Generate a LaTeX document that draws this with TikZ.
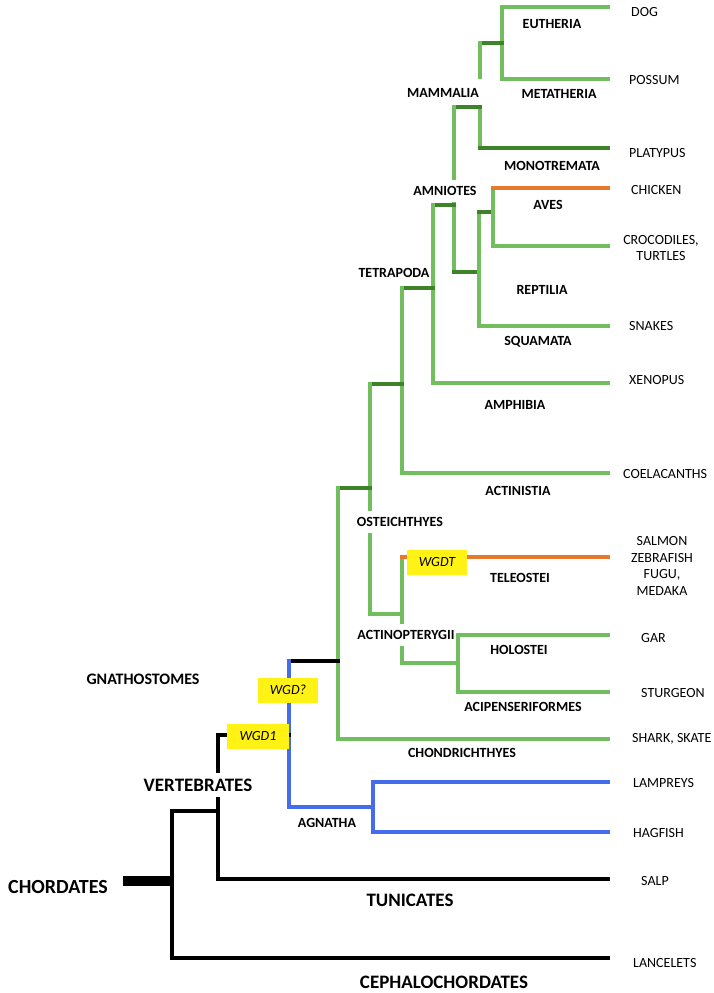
\documentclass[tikz,border=0pt]{standalone}
\usepackage{fontspec}
\setmainfont{Carlito}
\usetikzlibrary{calc}

\definecolor{lgreen}{RGB}{112,190,94}
\definecolor{dgreen}{RGB}{62,130,42}
\definecolor{orng}{RGB}{228,122,42}
\definecolor{blu}{RGB}{70,108,238}
\definecolor{wgdyellow}{RGB}{255,242,20}

\tikzset{
    branch/.style={lgreen, line width=3.4pt, line cap=rect},
    stem/.style={dgreen, line width=3.4pt, line cap=rect},
    orangeline/.style={orng, line width=3.4pt, line cap=rect},
    blueline/.style={blu, line width=3.4pt, line cap=rect},
    blackline/.style={black, line width=3.4pt, line cap=rect},
    rootbar/.style={black, line width=10pt},
    clade/.style={font=\bfseries\fontsize{14}{16}\selectfont, inner sep=0pt},
    midclade/.style={font=\bfseries\fontsize{16}{18}\selectfont, inner sep=0pt},
    bigclade/.style={font=\bfseries\fontsize{19}{22}\selectfont, inner sep=0pt},
    hugeclade/.style={font=\bfseries\fontsize{20}{24}\selectfont, inner sep=0pt},
    gap/.style={fill=white, inner xsep=0pt, inner ysep=6pt},
    leaf/.style={font=\fontsize{14}{16.5}\selectfont, anchor=west, inner sep=0pt},
    leafc/.style={font=\fontsize{14}{16.5}\selectfont, align=center, inner sep=0pt},
    wgd/.style={fill=wgdyellow, font=\itshape\fontsize{14}{16}\selectfont,
        minimum width=60pt, minimum height=25pt, inner sep=0pt},
}

\begin{document}
\begin{tikzpicture}[x=1pt, y=-1pt]
    \fill[white] (0,0) rectangle (714,993);

    % leaf ends
    \foreach \n/\y in {dog/7, possum/79, platypus/148, chicken/188, croc/246,
        snakes/326, xenopus/383, coel/473, teleost/557, gar/635, sturgeon/692,
        shark/739, lamprey/782, hagfish/832, salp/879, lancelet/958}
        \coordinate (\n) at (608,\y);

    % branch points
    \coordinate (eut) at (502,43);
    \coordinate (theria) at (480,43);
    \coordinate (theriaEnd) at (480,77);
    \coordinate (mam) at (480,107);
    \coordinate (amnTop) at (454,107);
    \coordinate (amn) at (454,205);
    \coordinate (amnBot) at (454,272);
    \coordinate (rep) at (479,272);
    \coordinate (repTop) at (479,212);
    \coordinate (aves) at (493,212);
    \coordinate (tet) at (433,205);
    \coordinate (tetStem) at (433,288);
    \coordinate (sarc) at (402,288);
    \coordinate (sarcStem) at (402,384);
    \coordinate (ostTop) at (370,384);
    \coordinate (ostJoin) at (370,488);
    \coordinate (gna) at (338,488);
    \coordinate (act) at (402,614);
    \coordinate (tel) at (402,557);
    \coordinate (hol) at (458,663);
    \coordinate (gnaTop) at (338,661);
    \coordinate (vtop) at (289,661);
    \coordinate (agn) at (373,807);
    \coordinate (vertTop) at (218,735);
    \coordinate (vertJoin) at (218,811);
    \coordinate (chor) at (172,811);
    \coordinate (root) at (172,881);
    \coordinate (rootEnd) at (123,881);

    % Gnathostomata
    \draw[branch] (eut) |- (dog);
    \draw[branch] (eut) |- (possum);
    \draw[stem] (theria) -- (eut);
    \draw[branch] (theria) -- (theriaEnd);
    \draw[branch] (mam) -- (mam |- platypus);
    \draw[stem] (mam |- platypus) -- (platypus);
    \draw[stem] (amnTop) -- (mam);
    \draw[branch] (amnTop) -- (amnBot);
    \draw[stem] (amnBot) -- (rep);
    \draw[branch] (repTop) |- (snakes);
    \draw[stem] (repTop) -- (aves);
    \draw[branch] (aves) -- (aves |- chicken);
    \draw[orangeline] (aves |- chicken) -- (chicken);
    \draw[branch] (aves) |- (croc);
    \draw[stem] (tet) -- (amn);
    \draw[branch] (tet) |- (xenopus);
    \draw[stem] (sarc) -- (tetStem);
    \draw[branch] (sarc) |- (coel);
    \draw[stem] (ostTop) -- (sarcStem);
    \draw[branch] (ostTop) |- (act);
    \draw[stem] (gna) -- (ostJoin);
    \draw[branch] (tel) |- (hol);
    \draw[orangeline] (tel) -- (teleost);
    \draw[branch] (hol) |- (gar);
    \draw[branch] (hol) |- (sturgeon);
    \draw[branch] (gna) |- (shark);

    % Agnatha
    \draw[blackline] (vtop) -- (gnaTop);
    \draw[blueline] (vtop) |- (agn);
    \draw[blueline] (agn) |- (lamprey);
    \draw[blueline] (agn) |- (hagfish);

    % base
    \draw[blackline] (vtop |- vertTop) -- (vertTop) |- (salp);
    \draw[blackline] (chor) -- (vertJoin);
    \draw[blackline] (chor) |- (lancelet);
    \draw[rootbar] (rootEnd) -- (root);

    % clade names
    \node[clade] (eutheria) at (552,24) {EUTHERIA};
    \node[clade] (metatheria) at (559,94) {METATHERIA};
    \node[clade] (mammalia) at (443,93) {MAMMALIA};
    \node[clade] (monotremata) at (552,166) {MONOTREMATA};
    \node[clade, gap] (amniotes) at (445,191) {AMNIOTES};
    \node[clade] (avesL) at (548,205) {AVES};
    \node[clade] (reptilia) at (542,290) {REPTILIA};
    \node[clade] (tetrapoda) at (394,273) {TETRAPODA};
    \node[clade] (squamata) at (538,342) {SQUAMATA};
    \node[clade] (amphibia) at (515,405) {AMPHIBIA};
    \node[clade] (actinistia) at (518,491) {ACTINISTIA};
    \node[clade, gap] (osteichthyes) at (400,522) {OSTEICHTHYES};
    \node[clade] (teleostei) at (520,578) {TELEOSTEI};
    \node[clade, gap] (actinopterygii) at (406,635) {ACTINOPTERYGII};
    \node[clade] (holostei) at (519,650) {HOLOSTEI};
    \node[clade] (acipenseriformes) at (523,707) {ACIPENSERIFORMES};
    \node[clade] (chondrichthyes) at (462,753) {CHONDRICHTHYES};
    \node[clade] (agnatha) at (327,823) {AGNATHA};
    \node[midclade] (gnathostomes) at (143,679) {GNATHOSTOMES};
    \node[bigclade, gap] (vertebrates) at (198,785) {VERTEBRATES};
    \node[hugeclade] (chordates) at (58,887) {CHORDATES};
    \node[bigclade] (tunicates) at (410,900) {TUNICATES};
    \node[bigclade] (cephalochordates) at (444,982) {CEPHALOCHORDATES};

    % duplications
    \node[wgd] (wgdT) at (437,562) {WGDT};
    \node[wgd] (wgdQ) at (288,690) {WGD?};
    \node[wgd, minimum width=62pt] (wgdOne) at (258,736) {WGD1};

    % species
    \node[leaf] (dogL) at (631,12) {DOG};
    \node[leaf] (possumL) at (629,80) {POSSUM};
    \node[leaf] (platypusL) at (629,153) {PLATYPUS};
    \node[leaf] (chickenL) at (631,190) {CHICKEN};
    \node[leafc] (crocL) at (661,248) {CROCODILES,\\TURTLES};
    \node[leaf] (snakesL) at (629,326) {SNAKES};
    \node[leaf] (xenopusL) at (629,380) {XENOPUS};
    \node[leaf] (coelL) at (623,474) {COELACANTHS};
    \node[leafc] (teleostL) at (662,566) {SALMON\\ZEBRAFISH\\FUGU,\\MEDAKA};
    \node[leaf] (garL) at (641,638) {GAR};
    \node[leaf] (sturgeonL) at (641,693) {STURGEON};
    \node[leaf] (sharkL) at (632,739) {SHARK, SKATE};
    \node[leaf] (lampreyL) at (633,783) {LAMPREYS};
    \node[leaf] (hagfishL) at (633,833) {HAGFISH};
    \node[leaf] (salpL) at (641,881) {SALP};
    \node[leaf] (lanceletL) at (633,963) {LANCELETS};
\end{tikzpicture}
\end{document}
